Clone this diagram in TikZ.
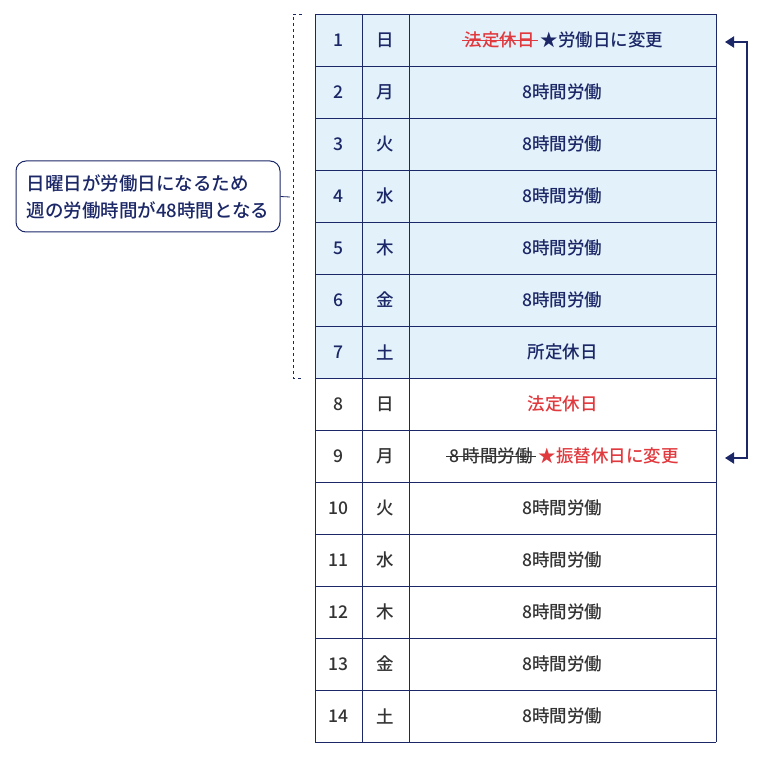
\documentclass[tikz,border=0pt]{standalone}
\usetikzlibrary{arrows.meta}
\usepackage{fontspec}
\setmainfont{Noto Sans CJK JP}[BoldFont={* Medium}]
\newlength\stl
\newcommand\strk[1]{\settowidth\stl{\,#1\,}\rlap{\rule[0.3em]{\stl}{0.07em}}\,#1\,}
\definecolor{navy}{HTML}{1B2766}
\definecolor{lb}{HTML}{E3F1FB}
\definecolor{rd}{HTML}{E0393E}
\definecolor{gr}{HTML}{333333}
\begin{document}
\begin{tikzpicture}[x=1pt,y=-1pt,
  cell/.style={font=\fontsize{17.5}{20}\selectfont\bfseries},
  line/.style={draw=navy,line width=0.9pt}]
\useasboundingbox (0,0) rectangle (780,757);
\fill[lb] (315,14) rectangle (716,378);
\foreach \i in {0,...,14} \draw[line] (315,14+52*\i) -- (716,14+52*\i);
\foreach \x in {315,362,409,716} \draw[line] (\x,14) -- (\x,742);
\foreach \d [count=\i] in {日,月,火,水,木,金,土,日,月,火,水,木,金,土}{
  \pgfmathsetmacro\yy{14+52*\i-26}
  \ifnum\i<8 \def\cc{navy}\else\def\cc{gr}\fi
  \node[cell,text=\cc] (n\i) at (338.5,\yy) {\i};
  \node[cell,text=\cc] (d\i) at (385.5,\yy) {\d};
}
\foreach \i in {2,...,6} \node[cell,text=navy] (c\i) at (562.5,14+52*\i-26) {8時間労働};
\node[cell,text=navy] (c1) at (562.5,40) {{\color{rd}\strk{法定休日}}\,★労働日に変更};
\node[cell,text=navy] (c7) at (562.5,352) {所定休日};
\node[cell,text=rd] (c8) at (562.5,404) {法定休日};
\node[cell,text=rd] (c9) at (562.5,456) {{\color{gr}\strk{8 時間労働}}\,★振替休日に変更};
\foreach \i in {10,...,14} \node[cell,text=gr] (c\i) at (562.5,14+52*\i-26) {8時間労働};
% bracket
\draw[navy,dash pattern=on 3pt off 3pt,line width=0.7pt] (302,14) -- (293,14) -- (293,378) -- (302,378);
\coordinate (bm) at (290,197);
\node[draw=navy,line width=1pt,rounded corners=10pt,align=left,text=navy,
  font=\fontsize{18.5}{27}\selectfont\bfseries,minimum width=264pt,minimum height=71pt,inner sep=4pt]
  (cb) at (148,196.5) {日曜日が労働日になるため\\週の労働時間が48時間となる};
\draw[navy,line width=0.8pt] (cb.east) -- (bm);
% arrow
\coordinate (a1) at (725,42);
\coordinate (a2) at (725,458);
\draw[navy,line width=2pt,-{Triangle[length=9pt,width=11pt]}] (747,42) -- (a1);
\draw[navy,line width=2pt,-{Triangle[length=9pt,width=11pt]}] (747,41) |- (a2);
\end{tikzpicture}
\end{document}
